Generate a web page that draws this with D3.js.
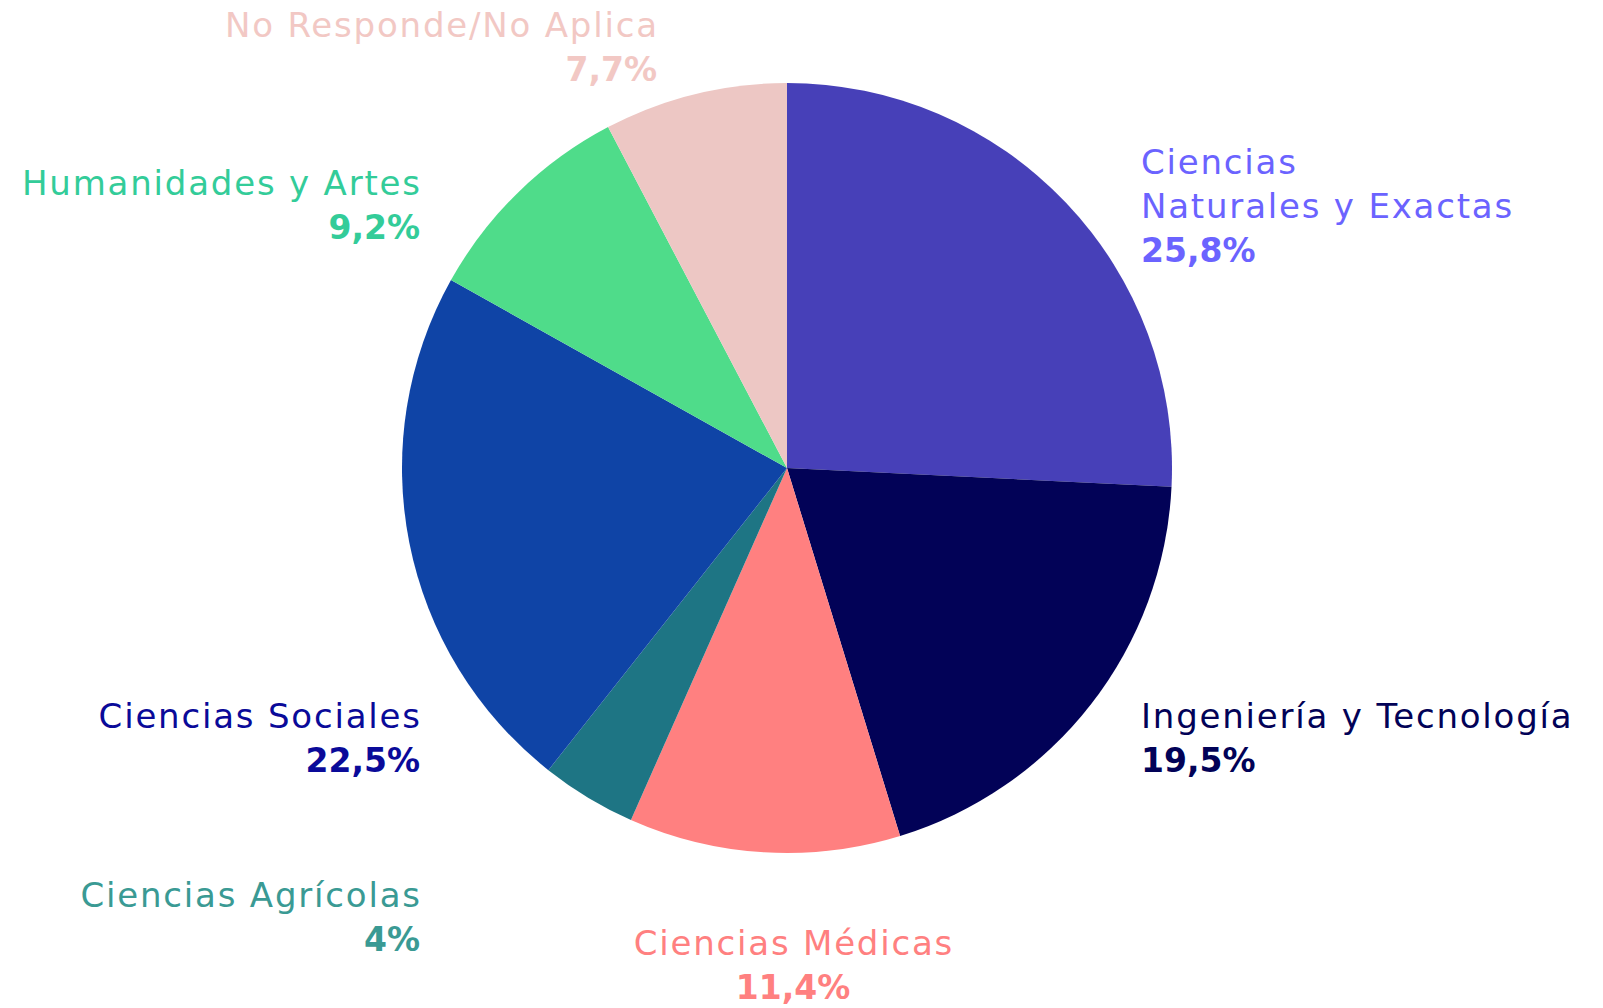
<!DOCTYPE html>
<html>
<head>
<meta charset="utf-8">
<script src="https://cdn.jsdelivr.net/npm/d3@7"></script>
<style>
    html, body { margin: 0; padding: 0; background: #fff; }
    svg { display: block; }
    text { font-family: 'DejaVu Sans', sans-serif; }
</style>
</head>
<body>
<div id="chart"></div>
<script>
const categories = [
    ['Ciencias', 'Naturales y Exactas'],
    ['Ingeniería y Tecnología'],
    ['Ciencias Médicas'],
    ['Ciencias Agrícolas'],
    ['Ciencias Sociales'],
    ['Humanidades y Artes'],
    ['No Responde/No Aplica']
]
const values = [25.8, 19.5, 11.4, 4, 22.5, 9.2, 7.7]
const valueLabels = ['25,8%', '19,5%', '11,4%', '4%', '22,5%', '9,2%', '7,7%']
const sliceColors = ['#4740b8', '#020257', '#ff8080', '#1e7584', '#0f44a6', '#4fdc8a', '#edc7c4']
const labelColors = ['#6b63ff', '#020257', '#ff8080', '#3a9a94', '#0a0a99', '#33cc99', '#f2c8c4']

// where each label block sits: anchor x, first baseline y, text-anchor
const labelLayout = [
    { x: 1141, y: 174, anchor: 'start' },
    { x: 1141, y: 728, anchor: 'start' },
    { x: 793, y: 955, anchor: 'middle' },
    { x: 420, y: 907, anchor: 'end' },
    { x: 420, y: 728, anchor: 'end' },
    { x: 420, y: 195, anchor: 'end' },
    { x: 657, y: 37, anchor: 'end' }
]

const width = 1603
const height = 1008
const cx = 787
const cy = 468
const radius = 385
const nameSize = 34
const valueSize = 33
const lineHeight = 44

const svg = d3.select('#chart').append('svg')
    .attr('width', width)
    .attr('height', height)

const pie = d3.pie().sort(null).value(d => d)
const arc = d3.arc().innerRadius(0).outerRadius(radius)

svg.append('g')
    .attr('transform', `translate(${cx},${cy})`)
    .selectAll('path')
    .data(pie(values))
    .join('path')
    .attr('d', arc)
    .attr('fill', (d, i) => sliceColors[i])

const labels = svg.append('g')
    .selectAll('text')
    .data(categories)
    .join('text')
    .attr('x', (d, i) => labelLayout[i].x)
    .attr('y', (d, i) => labelLayout[i].y)
    .attr('text-anchor', (d, i) => labelLayout[i].anchor)
    .attr('fill', (d, i) => labelColors[i])

labels.each(function(lines, i) {
    const t = d3.select(this)
    const a = labelLayout[i]
    // letter-spacing adds trailing space, so nudge right-aligned names back
    const shift = a.anchor === 'end' ? 1.8 : a.anchor === 'middle' ? 0.9 : 0
    lines.forEach((line, j) => {
        t.append('tspan')
            .attr('x', a.x + shift)
            .attr('dy', j === 0 ? 0 : lineHeight)
            .style('font-size', nameSize + 'px')
            .style('letter-spacing', '1.8px')
            .style('font-weight', 400)
            .text(line)
    })
    t.append('tspan')
        .attr('x', a.x)
        .attr('dy', lineHeight)
        .style('font-size', valueSize + 'px')
        .style('font-weight', 700)
        .text(valueLabels[i])
})
</script>
</body>
</html>
